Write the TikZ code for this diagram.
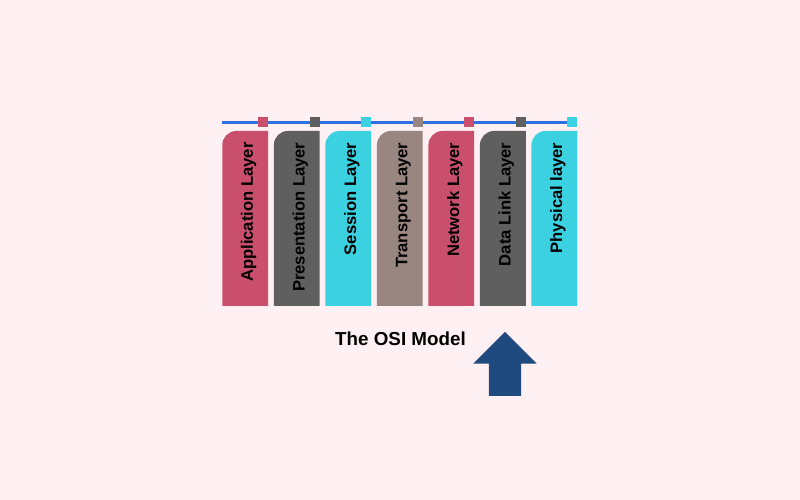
\documentclass[tikz,border=0pt]{standalone}
\usepackage{fontspec}
\setmainfont{Liberation Sans}
\usepackage{tikz}
\usetikzlibrary{positioning,shapes.arrows}
\definecolor{pagepink}{HTML}{FFF0F3}
\definecolor{osired}{HTML}{C94F6D}
\definecolor{osigrey}{HTML}{5F5F5F}
\definecolor{osicyan}{HTML}{3BD1E0}
\definecolor{ositaupe}{HTML}{9A8680}
\definecolor{osiline}{HTML}{2F6FE0}
\definecolor{osiarrow}{HTML}{1F4A80}
\tikzset{
    every node/.style={font=\bfseries},
    layer node/.style={minimum width=45.8pt,minimum height=175pt,inner sep=0pt,outer sep=0pt,
        path picture={\fill[#1] (path picture bounding box.south west)
            -- ([yshift=-14pt]path picture bounding box.north west)
            arc[start angle=180,end angle=90,radius=14pt]
            -- (path picture bounding box.north east)
            -- (path picture bounding box.south east) -- cycle;}},
    layer text/.style={rotate=90,anchor=east,text=black,font=\bfseries\fontsize{16.6}{18}\selectfont},
    port node/.style={minimum size=10pt,inner sep=0pt,outer sep=0pt,anchor=south east,fill=#1}
}

\begin{document}
\begin{tikzpicture}[x=1pt,y=1pt,node distance=5.73pt]

    \fill[pagepink] (0,0) rectangle (800,500);

    \node[layer node=osired] (1) at (245.2,281.5) {};
    \node[layer node=osigrey] (2) [right =of 1] {};
    \node[layer node=osicyan] (3) [right =of 2] {};
    \node[layer node=ositaupe] (4) [right =of 3] {};
    \node[layer node=osired] (5) [right =of 4] {};
    \node[layer node=osigrey] (6) [right =of 5] {};
    \node[layer node=osicyan] (7) [right =of 6] {};

    \node[layer text] (t1) at ([xshift=3.5pt,yshift=-8pt]1.north) {Application Layer};
    \node[layer text] (t2) at ([xshift=3.5pt,yshift=-8pt]2.north) {Presentation Layer};
    \node[layer text] (t3) at ([xshift=3.5pt,yshift=-8pt]3.north) {Session Layer};
    \node[layer text] (t4) at ([xshift=3.5pt,yshift=-8pt]4.north) {Transport Layer};
    \node[layer text] (t5) at ([xshift=3.5pt,yshift=-8pt]5.north) {Network Layer};
    \node[layer text] (t6) at ([xshift=3.5pt,yshift=-8pt]6.north) {Data Link Layer};
    \node[layer text] (t7) at ([xshift=3.5pt,yshift=-8pt]7.north) {Physical layer};

    \coordinate (start) at ([yshift=8.7pt]1.north west);
    \coordinate (end) at ([yshift=8.7pt,xshift=-5pt]7.north east);
    \draw[osiline,line width=3pt] (start) -- (end);

    \node[port node=osired] (p1) at ([yshift=3.7pt]1.north east) {};
    \node[port node=osigrey] (p2) at ([yshift=3.7pt]2.north east) {};
    \node[port node=osicyan] (p3) at ([yshift=3.7pt]3.north east) {};
    \node[port node=ositaupe] (p4) at ([yshift=3.7pt]4.north east) {};
    \node[port node=osired] (p5) at ([yshift=3.7pt]5.north east) {};
    \node[port node=osigrey] (p6) at ([yshift=3.7pt]6.north east) {};
    \node[port node=osicyan] (p7) at ([yshift=3.7pt]7.north east) {};

    \node[font=\bfseries\fontsize{18.8}{20}\selectfont,text=black] (title) at (400.5,161.5) {The OSI Model};

    \node[single arrow,shape border rotate=90,fill=osiarrow,inner sep=0pt,outer sep=0pt,
        text width=32pt,minimum height=64pt,single arrow head extend=15.5pt,
        single arrow head indent=0pt,single arrow tip angle=90] (up) at (505,128) {};

\end{tikzpicture}
\end{document}
